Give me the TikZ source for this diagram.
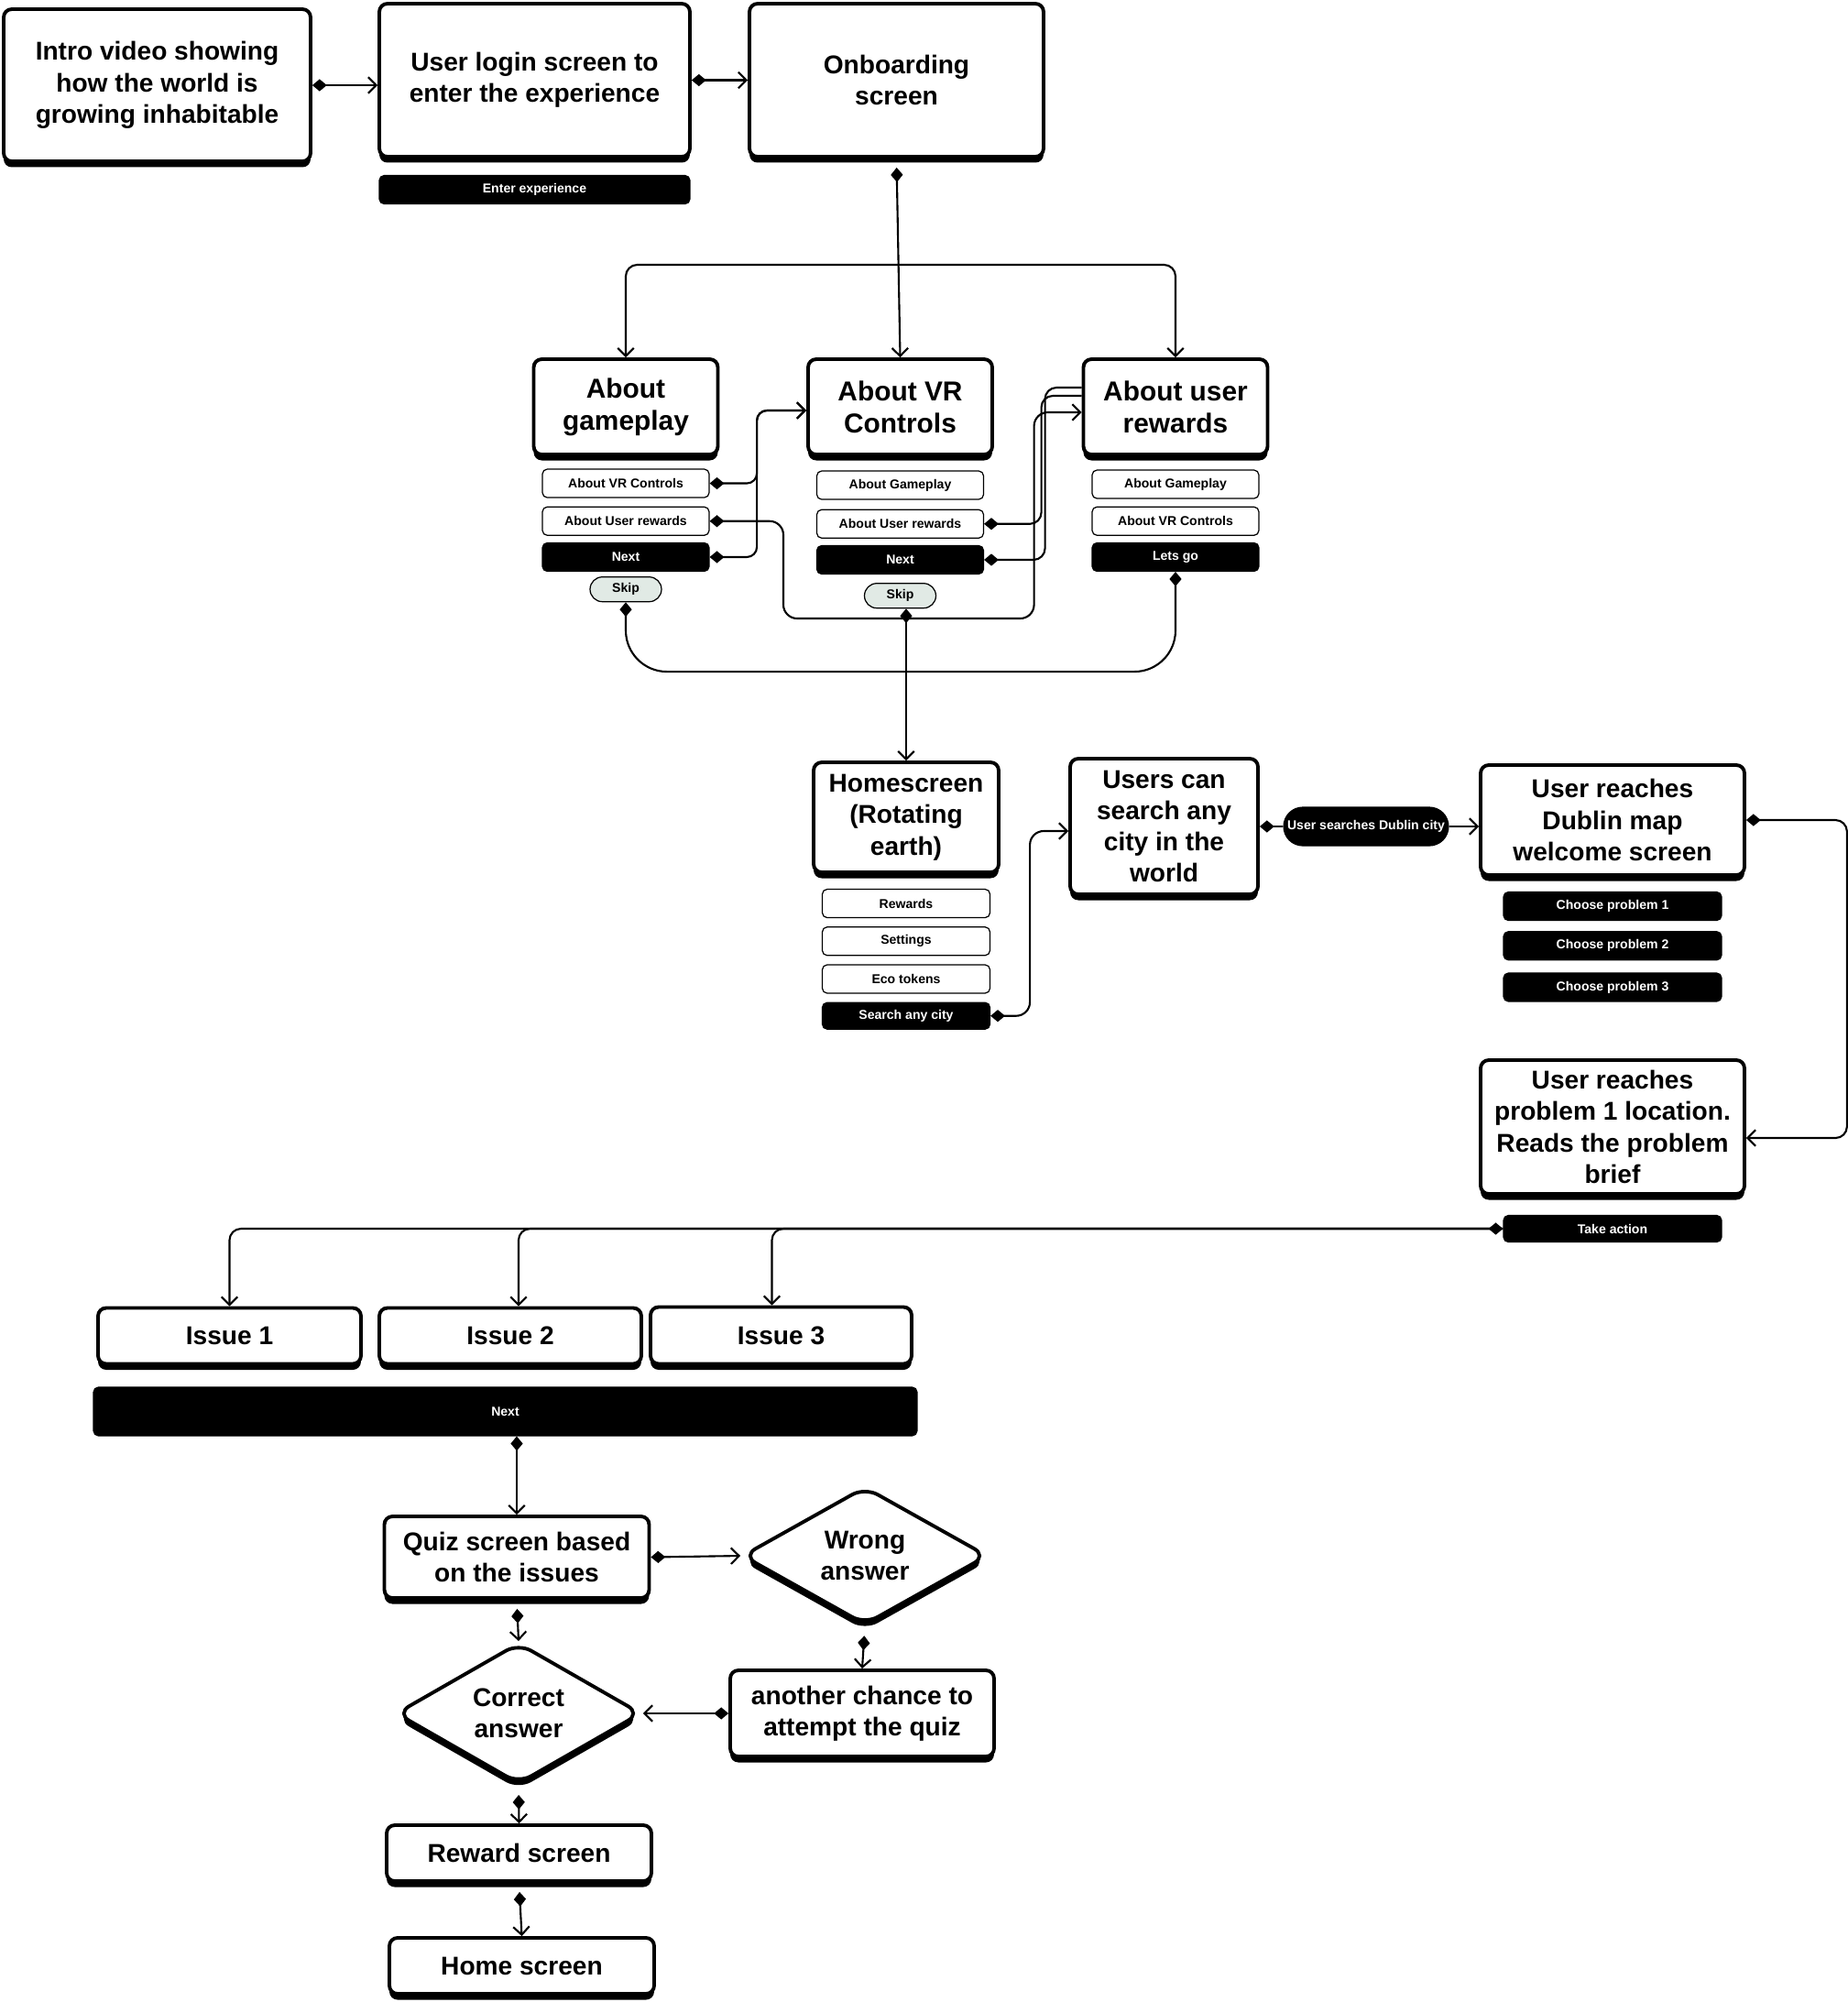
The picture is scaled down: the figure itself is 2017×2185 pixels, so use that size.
\documentclass[tikz,border=0pt]{standalone}
\usepackage{fontspec}
\setmainfont{Liberation Sans}
\usepackage{tikz}
\usetikzlibrary{arrows.meta,positioning,shapes.geometric,shadows}
\definecolor{SkipGreen}{HTML}{E1EAE5}

\begin{document}
\begin{tikzpicture}[x=0.02cm,y=-0.02cm,
  node distance=0.18cm,
  every node/.style={font=\bfseries},
  screen/.style={draw,line width=2.2pt,rounded corners=5pt,fill=white,align=center,
    inner sep=2pt,font=\fontsize{16}{19.5}\selectfont\bfseries,
    drop shadow={shadow xshift=0pt,shadow yshift=-0.13cm,opacity=1,fill=black}},
  topic/.style={screen,font=\fontsize{17}{20}\selectfont\bfseries,
    minimum width=4.02cm,minimum height=2.08cm},
  choice/.style={screen,diamond,rounded corners=9pt,inner sep=0pt},
  opt/.style={draw,line width=0.7pt,rounded corners=3pt,fill=white,inner sep=1pt,
    minimum width=3.64cm,minimum height=0.62cm,font=\fontsize{8}{9}\selectfont\bfseries},
  btn/.style={opt,fill=black,text=white},
  skipbtn/.style={opt,fill=SkipGreen,rounded corners=0.27cm,minimum width=1.56cm,minimum height=0.54cm},
  flow/.style={line width=1.2pt,{Diamond[length=9pt,width=7.5pt]}-{Straight Barb[length=5pt,width=10pt]}},
  flowto/.style={line width=1.2pt,-{Straight Barb[length=5pt,width=10pt]}},
  flowcut/.style={line width=1.2pt,{Diamond[length=9pt,width=7.5pt]}-},
  flowlink/.style={line width=1.2pt,{Diamond[length=9pt,width=7.5pt]}-{Diamond[length=9pt,width=7.5pt]}},
  undershadow/.style={shorten <=0.2cm}
]
  \useasboundingbox (0,0) rectangle (2017,2185);

  % top row
  \node[screen,minimum width=6.7cm,minimum height=3.32cm] (intro) at (171.5,93) {Intro video showing\\how the world is\\growing inhabitable};
  \node[screen,minimum width=6.78cm,minimum height=3.34cm] (login) at (583.5,87.5) {User login screen to\\enter the experience};
  \node[screen,minimum width=6.42cm,minimum height=3.34cm] (onb) at (978.5,87.5) {Onboarding\\screen};
  \node[btn,minimum width=6.78cm,below=0.36cm of login] (enter) {Enter experience};

  % onboarding pages
  \node[topic] (play) at (683,444) {About\\gameplay};
  \node[topic] (vr) at (982.5,444) {About VR\\Controls};
  \node[topic] (rwd) at (1283,444) {About user\\rewards};

  \node[opt,below=0.27cm of play] (p1) {About VR Controls};
  \node[opt,below=of p1] (p2) {About User rewards};
  \node[btn,below=0.14cm of p2] (pnext) {Next};
  \node[skipbtn,below=0.1cm of pnext] (pskip) {Skip};

  \node[opt,below=0.31cm of vr] (v1) {About Gameplay};
  \node[opt,below=0.2cm of v1] (v2) {About User rewards};
  \node[btn,below=0.14cm of v2] (vnext) {Next};
  \node[skipbtn,below=0.18cm of vnext] (vskip) {Skip};

  \node[opt,below=0.29cm of rwd] (r1) {About Gameplay};
  \node[opt,below=0.16cm of r1] (r2) {About VR Controls};
  \node[btn,below=0.14cm of r2] (rgo) {Lets go};

  % home and city search
  \node[screen,minimum width=4.04cm,minimum height=2.4cm] (home) at (989,892) {Homescreen\\(Rotating\\earth)};
  \node[opt,minimum width=3.66cm,below=0.32cm of home] (h1) {Rewards};
  \node[opt,minimum width=3.66cm,below=of h1] (h2) {Settings};
  \node[opt,minimum width=3.66cm,below=of h2] (h3) {Eco tokens};
  \node[btn,minimum width=3.66cm,minimum height=0.58cm,below=of h3] (h4) {Search any city};

  \node[screen,minimum width=4.1cm,minimum height=2.96cm] (search) at (1270.5,902) {Users can\\search any\\city in the\\world};
  \node[btn,rounded corners=0.42cm,minimum width=3.6cm,minimum height=0.84cm] (dub) at (1491,902) {User searches Dublin city};
  \node[screen,minimum width=5.76cm,minimum height=2.4cm] (dublin) at (1760,895) {User reaches\\Dublin map\\welcome screen};
  \node[btn,minimum width=4.76cm,below=0.32cm of dublin] (cp1) {Choose problem 1};
  \node[btn,minimum width=4.76cm,below=0.22cm of cp1] (cp2) {Choose problem 2};
  \node[btn,minimum width=4.76cm,below=0.26cm of cp2] (cp3) {Choose problem 3};

  \node[screen,minimum width=5.76cm,minimum height=2.92cm] (prob) at (1760,1230) {User reaches\\problem 1 location.\\Reads the problem\\brief};
  \node[btn,minimum width=4.76cm,minimum height=0.58cm,below=0.42cm of prob] (take) {Take action};

  % issues and quiz
  \node[screen,minimum width=5.74cm,minimum height=1.22cm] (i1) at (250.5,1458) {Issue 1};
  \node[screen,minimum width=5.72cm,minimum height=1.22cm] (i2) at (557,1458) {Issue 2};
  \node[screen,minimum width=5.7cm,minimum height=1.24cm] (i3) at (852.5,1457.5) {Issue 3};
  \node[btn,minimum width=17.98cm,minimum height=1.06cm] (inext) at (551.5,1540.5) {Next};

  \node[screen,minimum width=5.78cm,minimum height=1.78cm] (quiz) at (564,1699.5) {Quiz screen based\\on the issues};
  \node[choice,minimum width=5.36cm,minimum height=2.7cm] (wrong) at (944,1698) {Wrong\\answer};
  \node[choice,minimum width=5.36cm,minimum height=2.56cm] (right) at (566,1870) {Correct\\answer};
  \node[screen,minimum width=5.76cm,minimum height=1.88cm] (again) at (941,1870) {another chance to\\attempt the quiz};
  \node[screen,minimum width=5.78cm,minimum height=1.22cm] (reward) at (566.5,2022.5) {Reward screen};
  \node[screen,minimum width=5.78cm,minimum height=1.22cm] (homeend) at (569.5,2145.5) {Home screen};

  % connectors
  \draw[flow] (intro.east) -- (login.west |- intro.east);
  \draw[flow] (login.east) -- (onb.west);
  \coordinate (fork) at (980,289);
  \draw[flow,undershadow] (onb.south) -- (vr.north);
  \draw[flowto,rounded corners=0.25cm] (fork) -| (play.north);
  \draw[flowto,rounded corners=0.25cm] (fork) -| (rwd.north);

  \draw[flow,rounded corners=0.22cm] (p1.east) -| ([xshift=-1.08cm,yshift=-0.08cm]vr.west) -- ([yshift=-0.08cm]vr.west);
  \draw[flow,rounded corners=0.22cm] (pnext.east) -| ([xshift=-1.08cm,yshift=-0.08cm]vr.west) -- ([yshift=-0.08cm]vr.west);
  \coordinate (loopb) at (855,675);
  \draw[flow,rounded corners=0.3cm] (p2.east) -| (loopb) -| ([xshift=-1.04cm,yshift=-0.12cm]rwd.west) -- ([yshift=-0.12cm]rwd.west);
  \draw[flowcut,rounded corners=0.25cm] (v2.east) -| ([xshift=-0.88cm,yshift=0.24cm]rwd.west) -- ([yshift=0.24cm]rwd.west);
  \draw[flowcut,rounded corners=0.25cm] (vnext.east) -| ([xshift=-0.8cm,yshift=0.42cm]rwd.west) -- ([yshift=0.42cm]rwd.west);
  \draw[flowlink,rounded corners=0.9cm] (pskip.south) |- ([yshift=-2.18cm]rgo.south) -- (rgo.south);
  \draw[flow] (vskip.south -| home.north) -- (home.north);

  \draw[flow,rounded corners=0.3cm] (h4.east) -| ([xshift=-0.84cm,yshift=-0.1cm]search.west) -- ([yshift=-0.1cm]search.west);
  \draw[flowcut] (search.east) -- (dub.west);
  \draw[flowto] (dub.east) -- (dub.east -| dublin.west);
  \draw[flow,rounded corners=0.25cm] (dublin.east) -| ([xshift=2.2cm,yshift=-0.24cm]prob.east) -- ([yshift=-0.24cm]prob.east);

  \draw[flow,rounded corners=0.25cm] (take.west) -| (i1.north);
  \draw[flowto,rounded corners=0.25cm] (take.west) -| ([xshift=0.18cm]i2.north);
  \draw[flowto,rounded corners=0.25cm] (take.west) -| ([xshift=-0.2cm]i3.north);
  \draw[flow] (quiz.north |- inext.south) -- (quiz.north);

  \draw[flow] (quiz.east) -- (wrong.west);
  \draw[flow,undershadow] (quiz.south) -- (right.north);
  \draw[flow,undershadow] (wrong.south) -- (again.north);
  \draw[flow] (again.west) -- (right.east);
  \draw[flow,undershadow] (right.south) -- (reward.north);
  \draw[flow,undershadow] (reward.south) -- (homeend.north);
\end{tikzpicture}
\end{document}
